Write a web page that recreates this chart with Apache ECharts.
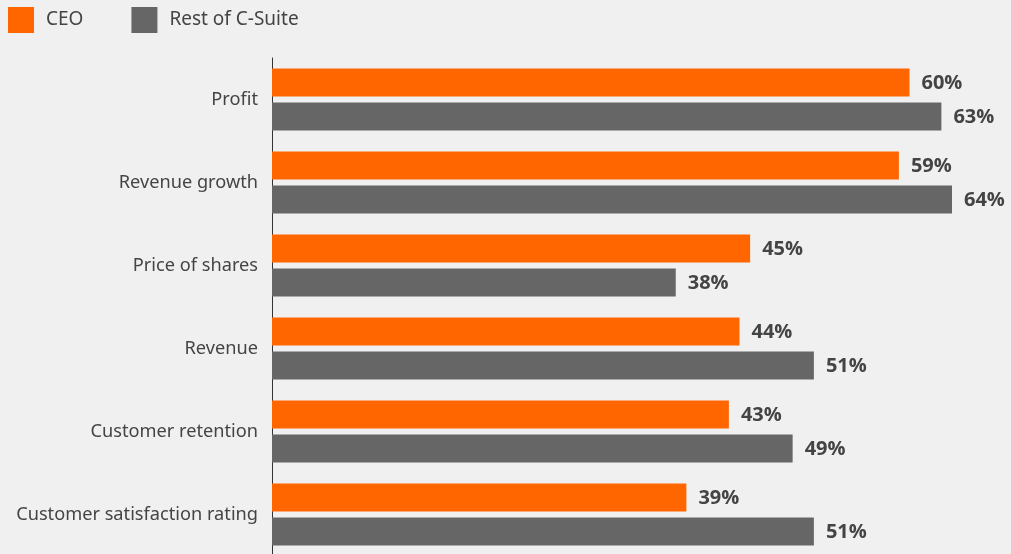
<!DOCTYPE html>
<html>
<head>
<meta charset="utf-8">
<script src="https://cdn.jsdelivr.net/npm/echarts@6/dist/echarts.min.js"></script>
<style>
    html, body { margin: 0; padding: 0; background: #f0f0f0; }
    #chart1 { width: 1011px; height: 554px; }
</style>
</head>
<body>
<div id="chart1"></div>
<script>
// data
var categories = ['Profit', 'Revenue growth', 'Price of shares', 'Revenue', 'Customer retention', 'Customer satisfaction rating'];
var ceoValues = [60, 59, 45, 44, 43, 39];
var restValues = [63, 64, 38, 51, 49, 51];
var seriesNames = ['CEO', 'Rest of C-Suite'];

var myChart = echarts.init(document.getElementById('chart1'));
var labelStyle = {
    show: true,
    position: 'right',
    distance: 12,
    offset: [0, 1],
    formatter: '{c}%',
    fontFamily: 'Open Sans',
    fontSize: 20,
    fontWeight: 'bold',
    color: '#444'
};
var option = {
    backgroundColor: '#f0f0f0',
    animation: false,
    textStyle: {fontFamily: 'Noto Sans'},
    legend: {
        left: 8,
        top: 7,
        padding: 0,
        itemWidth: 26,
        itemHeight: 26,
        itemGap: 48,
        icon: 'rect',
        textStyle: {fontSize: 19, color: '#444', padding: [0, 0, 0, 7]},
        data: seriesNames
    },
    grid: {left: 272, top: 58, width: 850, height: 498, outerBoundsMode: 'none'},
    xAxis: {
        type: 'value',
        min: 0,
        max: 80,
        show: false
    },
    yAxis: {
        type: 'category',
        inverse: true,
        data: categories,
        axisLine: {show: true, lineStyle: {color: '#333', width: 1}},
        axisTick: {show: false},
        axisLabel: {fontSize: 18.2, color: '#444', margin: 14}
    },
    series: [
        {
            name: seriesNames[0],
            type: 'bar',
            data: ceoValues,
            barWidth: 28,
            barGap: '21%',
            itemStyle: {color: '#ff6600'},
            label: labelStyle
        },
        {
            name: seriesNames[1],
            type: 'bar',
            data: restValues,
            barWidth: 28,
            itemStyle: {color: '#666666'},
            label: labelStyle
        }
    ]
};
myChart.setOption(option);
</script>
</body>
</html>
